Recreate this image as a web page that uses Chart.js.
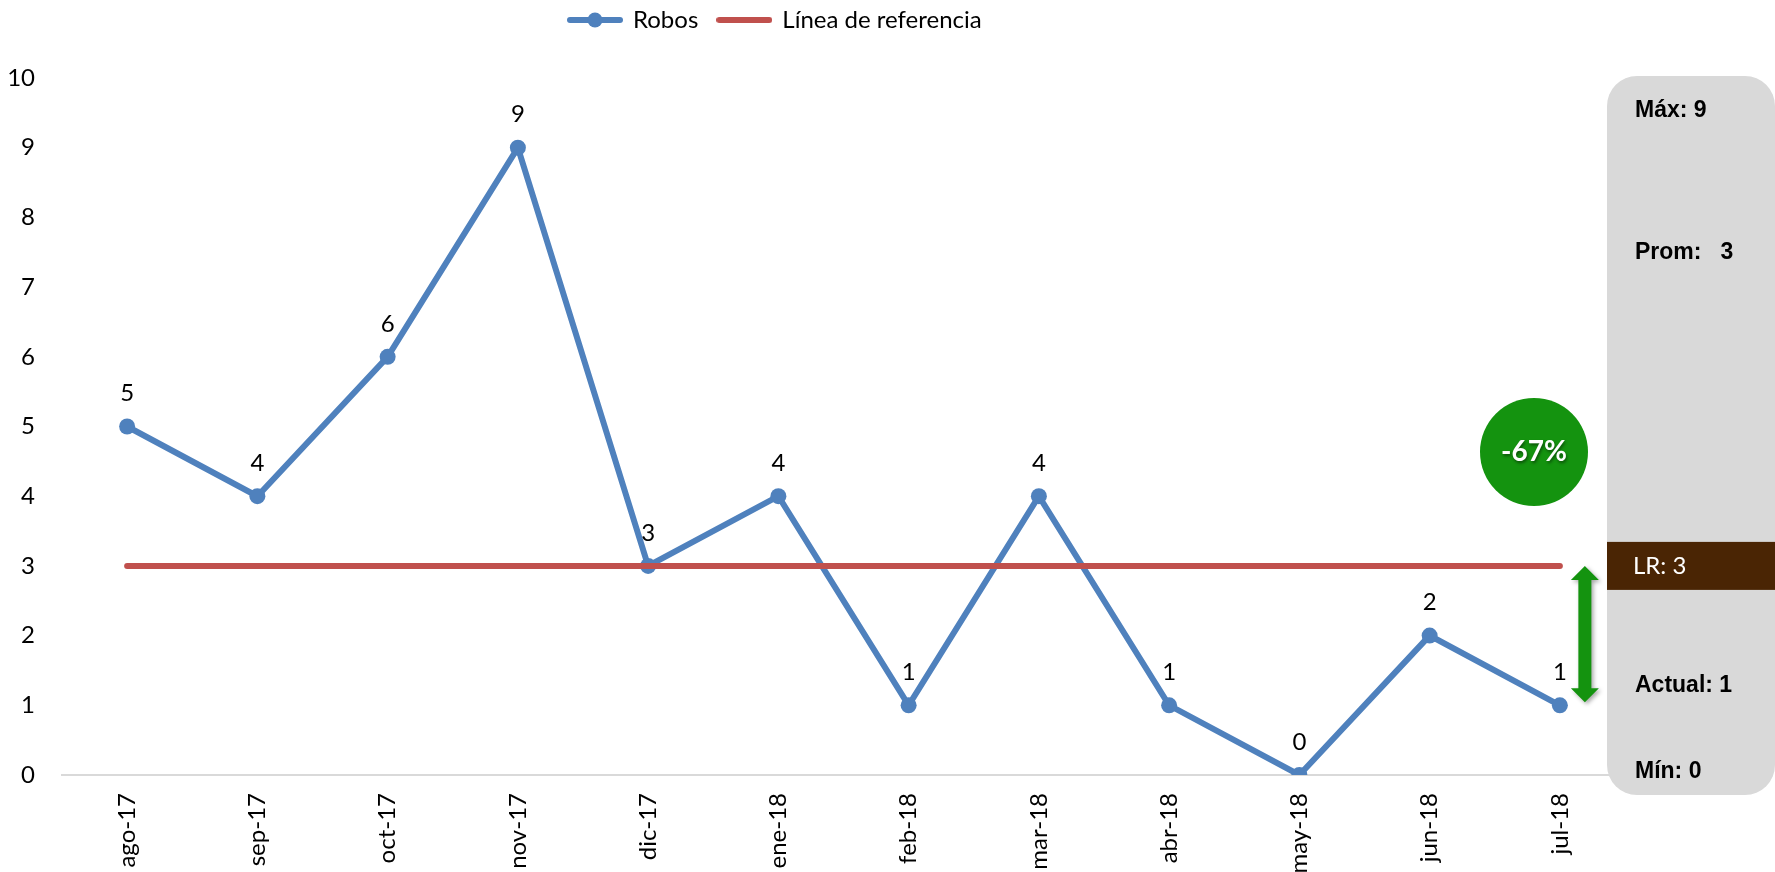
<!DOCTYPE html>
<html>
<head>
<meta charset="utf-8">
<script src="https://cdn.jsdelivr.net/npm/chart.js@4.4.1/dist/chart.umd.min.js"></script>
<style>
  html, body { margin: 0; padding: 0; background: #fff; }
  #wrap { width: 1775px; height: 872px; }
</style>
</head>
<body>
<div id="wrap"><canvas id="robosChart" width="1775" height="872"></canvas></div>
<script>
const meses = ['ago-17', 'sep-17', 'oct-17', 'nov-17', 'dic-17', 'ene-18', 'feb-18', 'mar-18', 'abr-18', 'may-18', 'jun-18', 'jul-18'];
const robos = [5, 4, 6, 9, 3, 4, 1, 4, 1, 0, 2, 1];
const lineaRef = [3, 3, 3, 3, 3, 3, 3, 3, 3, 3, 3, 3];
const yMin = 0;
const yMax = 10;

const azul = '#4F81BD';
const rojo = '#C0504D';
const verde = '#14930F';

// resumen para el panel lateral
const maximo = Math.max(...robos);
const minimo = Math.min(...robos);
const promedio = Math.round(robos.reduce((a, b) => a + b, 0) / robos.length);
const actual = robos[robos.length - 1];
const lr = lineaRef[lineaRef.length - 1];
const variacion = Math.round((actual - lr) / lr * 100);

// iconos de la leyenda (línea con marcador / línea simple)
const makeIcon = (color, withDot) => {
    const c = document.createElement('canvas');
    c.width = 56; c.height = 18;
    const g = c.getContext('2d');
    g.strokeStyle = color;
    g.lineWidth = 6;
    g.lineCap = 'round';
    g.beginPath();
    g.moveTo(3, 9);
    g.lineTo(53, 9);
    g.stroke();
    if (withDot) {
        g.fillStyle = color;
        g.beginPath();
        g.arc(28, 9, 7.5, 0, Math.PI * 2);
        g.fill();
    }
    return c;
};
const legendIcons = [makeIcon(azul, true), makeIcon(rojo, false)];

const ajusteLeyenda = {
    id: 'ajusteLeyenda',
    afterLayout(chart) {
        const lg = chart.legend;
        if (!lg) return;
        const dx = 569 - 20 - lg.left;
        const dy = -36;
        lg.left += dx; lg.right += dx;
        lg.top += dy; lg.bottom += dy;
    }
};

const etiquetas = {
    id: 'etiquetas',
    afterDatasetsDraw(chart) {
        const { ctx } = chart;
        const meta = chart.getDatasetMeta(0);
        ctx.save();
        ctx.font = '24px Lato';
        ctx.fillStyle = '#000';
        ctx.textAlign = 'center';
        ctx.textBaseline = 'middle';
        meta.data.forEach((pt, i) => {
            ctx.fillText(String(robos[i]), pt.x, pt.y - 33);
        });
        ctx.restore();
    }
};

const panel = {
    id: 'panel',
    afterDraw(chart) {
        const { ctx, scales: { x, y } } = chart;
        ctx.save();

        // caja gris
        const px = 1607, py = 76, pw = 168, ph = 719, r = 30;
        ctx.fillStyle = '#D9D9D9';
        ctx.beginPath();
        ctx.moveTo(px + r, py);
        ctx.lineTo(px + pw - r, py);
        ctx.arcTo(px + pw, py, px + pw, py + r, r);
        ctx.lineTo(px + pw, py + ph - r);
        ctx.arcTo(px + pw, py + ph, px + pw - r, py + ph, r);
        ctx.lineTo(px + r, py + ph);
        ctx.arcTo(px, py + ph, px, py + ph - r, r);
        ctx.lineTo(px, py + r);
        ctx.arcTo(px, py, px + r, py, r);
        ctx.closePath();
        ctx.fill();

        // banda LR
        const yLR = y.getPixelForValue(lr);
        ctx.fillStyle = '#4A2504';
        ctx.fillRect(px, yLR - 24, pw, 48);
        ctx.font = '24px Lato';
        ctx.fillStyle = '#fff';
        ctx.textBaseline = 'middle';
        ctx.textAlign = 'left';
        ctx.fillText('LR: ' + lr, 1633, yLR);

        ctx.font = 'bold 23px "Liberation Sans"';
        ctx.fillStyle = '#000';
        ctx.fillText('Máx: ' + maximo, 1635, 111);
        ctx.fillText('Prom:   ' + promedio, 1635, 253);
        ctx.fillText('Actual: ' + actual, 1635, 686);
        ctx.fillText('Mín: ' + minimo, 1635, 772);

        // flecha doble entre LR y el valor actual
        const ax = x.getPixelForValue(meses.length - 1) + 25;
        const yTop = yLR;
        const yBot = y.getPixelForValue(actual) - 3;
        const hw = 14, hl = 14, sw = 6.5;
        ctx.shadowColor = 'rgba(0,0,0,0.35)';
        ctx.shadowBlur = 4;
        ctx.shadowOffsetX = 2;
        ctx.shadowOffsetY = 2;
        ctx.fillStyle = verde;
        ctx.beginPath();
        ctx.moveTo(ax, yTop);
        ctx.lineTo(ax + hw, yTop + hl);
        ctx.lineTo(ax + sw, yTop + hl);
        ctx.lineTo(ax + sw, yBot - hl);
        ctx.lineTo(ax + hw, yBot - hl);
        ctx.lineTo(ax, yBot);
        ctx.lineTo(ax - hw, yBot - hl);
        ctx.lineTo(ax - sw, yBot - hl);
        ctx.lineTo(ax - sw, yTop + hl);
        ctx.lineTo(ax - hw, yTop + hl);
        ctx.closePath();
        ctx.fill();

        // círculo con la variación
        ctx.shadowColor = 'transparent';
        ctx.beginPath();
        ctx.arc(1534, 452, 54, 0, Math.PI * 2);
        ctx.fill();
        ctx.shadowColor = 'rgba(0,0,0,0.45)';
        ctx.shadowBlur = 3;
        ctx.shadowOffsetX = 1;
        ctx.shadowOffsetY = 2;
        ctx.font = 'bold 28px Lato';
        ctx.fillStyle = '#fff';
        ctx.textAlign = 'center';
        ctx.fillText(variacion + '%', 1534, 452);

        ctx.restore();
    }
};

const ctx = document.getElementById('robosChart').getContext('2d');
new Chart(ctx, {
    type: 'line',
    data: {
        labels: meses,
        datasets: [
            {
                label: 'Robos',
                data: robos,
                borderColor: azul,
                backgroundColor: azul,
                borderWidth: 6,
                pointRadius: 8,
                pointHoverRadius: 8,
                pointBorderWidth: 0,
                tension: 0,
                order: 1
            },
            {
                label: 'Línea de referencia',
                data: lineaRef,
                borderColor: rojo,
                backgroundColor: rojo,
                borderWidth: 6,
                borderCapStyle: 'round',
                pointRadius: 0,
                pointHoverRadius: 0,
                order: 0
            }
        ]
    },
    options: {
        responsive: false,
        animation: false,
        layout: { padding: { top: 24, right: 150, left: 0, bottom: 0 } },
        scales: {
            x: {
                offset: true,
                grid: { display: false, drawTicks: false },
                border: { display: true, color: '#D9D9D9', width: 2 },
                ticks: {
                    font: { family: 'Lato', size: 24 },
                    color: '#000',
                    minRotation: 90,
                    maxRotation: 90,
                    padding: 18,
                    autoSkip: false
                },
                afterFit(s) { s.height = 97; }
            },
            y: {
                min: yMin,
                max: yMax,
                grid: { display: false, drawTicks: false },
                border: { display: false },
                ticks: {
                    stepSize: 1,
                    font: { family: 'Lato', size: 24 },
                    color: '#000',
                    padding: 27
                },
                afterFit(s) { s.width = 62; }
            }
        },
        plugins: {
            legend: {
                position: 'top',
                align: 'start',
                labels: {
                    usePointStyle: true,
                    pointStyleWidth: 52,
                    padding: 20,
                    color: '#000',
                    font: { family: 'Lato', size: 24 },
                    sort: (a, b) => a.datasetIndex - b.datasetIndex,
                    generateLabels(chart) {
                        const items = Chart.defaults.plugins.legend.labels.generateLabels(chart);
                        items.forEach((it) => { it.pointStyle = legendIcons[it.datasetIndex]; });
                        return items;
                    }
                }
            },
            tooltip: { enabled: false }
        }
    },
    plugins: [ajusteLeyenda, etiquetas, panel]
});
</script>
</body>
</html>
